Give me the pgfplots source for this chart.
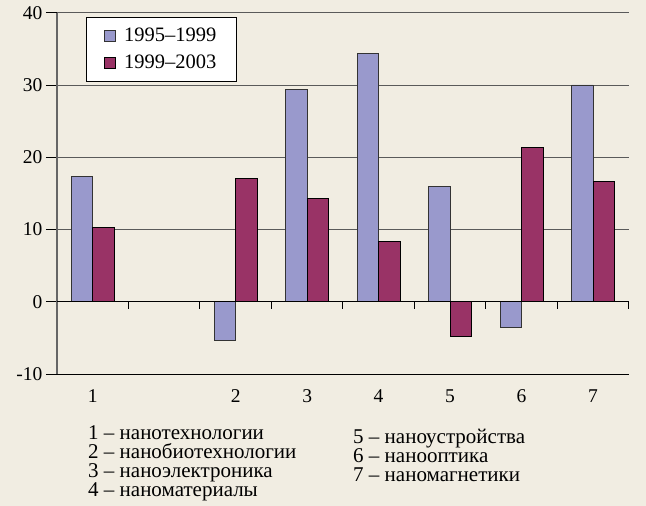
\documentclass[border=0pt]{standalone}
\usepackage{fontspec}
\setmainfont{Liberation Serif}
\usepackage{pgfplots}
\pgfplotsset{compat=1.18}
\definecolor{bg}{HTML}{F1EDE2}
\definecolor{blueb}{HTML}{9999CC}
\definecolor{redb}{HTML}{993366}
\definecolor{gridc}{HTML}{5A5A5A}
\begin{document}
\begin{tikzpicture}[x=1bp,y=1bp]
\fill[bg] (0,0) rectangle (646,506);
\useasboundingbox (0,0) rectangle (646,506);
\begin{axis}[
  at={(57bp,132bp)}, anchor=south west,
  scale only axis, width=571.75bp, height=361.3bp,
  xmin=-0.5, xmax=7.5, ymin=-10, ymax=40,
  axis x line*=bottom, axis y line*=left,
  x axis line style={black, line width=0.9bp},
  y axis line style={black!60, line width=1.4bp},
  xtick={0,2,3,4,5,6,7}, xticklabels={1,2,3,4,5,6,7},
  xtick style={draw=none},
  ytick={-10,0,10,20,30,40},
  ytick style={black, line width=0.9bp},
  tick align=outside, major tick length=11bp,
  ymajorgrids, grid style={gridc, line width=0.9bp},
  tick label style={font=\fontsize{19.5bp}{19.5bp}\selectfont},
  xticklabel style={yshift=-1bp},
  /pgf/number format/assume math mode=true,
  legend style={at={(0.0507,0.989)}, anchor=north west, draw=black, fill=white,
    font=\fontsize{20.5bp}{20.5bp}\selectfont, line width=0.8bp,
    inner xsep=18bp, inner ysep=9bp, row sep=8bp,
    /tikz/every odd column/.append style={column sep=6bp}},
  legend cell align=left,
  legend image code/.code={\draw[#1, line width=0.8bp] (0bp,-5.5bp) rectangle (11bp,5.5bp);},
]
\addplot[ybar, bar width=0.3, bar shift=-0.15, fill=blueb, draw=black!80, line width=0.8bp]
  coordinates {(0,17.4) (2,-5.3) (3,29.4) (4,34.3) (5,15.9) (6,-3.5) (7,30.0)};
\addlegendentry{1995–1999}
\addplot[ybar, bar width=0.3, bar shift=0.15, fill=redb, draw=black, line width=0.8bp]
  coordinates {(0,10.3) (2,17.0) (3,14.3) (4,8.4) (5,-4.8) (6,21.4) (7,16.7)};
\addlegendentry{1999–2003}
\draw[black, line width=0.9bp] (axis cs:-0.5,0) -- (axis cs:7.5,0);
\draw[black, line width=0.9bp] (axis cs:0.5,0) -- (axis cs:0.5,-0.95);
\draw[black, line width=0.9bp] (axis cs:1.5,0) -- (axis cs:1.5,-0.95);
\draw[black, line width=0.9bp] (axis cs:2.5,0) -- (axis cs:2.5,-0.95);
\draw[black, line width=0.9bp] (axis cs:3.5,0) -- (axis cs:3.5,-0.95);
\draw[black, line width=0.9bp] (axis cs:4.5,0) -- (axis cs:4.5,-0.95);
\draw[black, line width=0.9bp] (axis cs:5.5,0) -- (axis cs:5.5,-0.95);
\draw[black, line width=0.9bp] (axis cs:6.5,0) -- (axis cs:6.5,-0.95);
\draw[black, line width=0.9bp] (axis cs:7.5,0) -- (axis cs:7.5,-0.95);
\end{axis}
\begin{scope}[every node/.style={anchor=north west, inner sep=0pt, align=left, font=\fontsize{21bp}{19bp}\selectfont}]
\node at (88,81) {1 – нанотехнологии\\2 – нанобиотехнологии\\3 – наноэлектроника\\4 – наноматериалы};
\node at (353,77) {5 – наноустройства\\6 – нанооптика\\7 – наномагнетики};
\end{scope}
\end{tikzpicture}
\end{document}
